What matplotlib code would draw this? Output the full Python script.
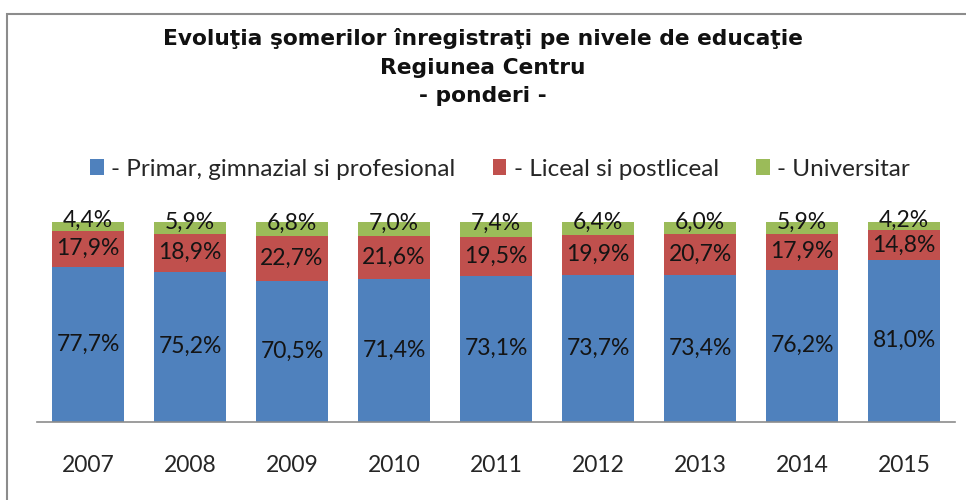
import matplotlib
matplotlib.use("Agg")
import matplotlib.pyplot as plt
from matplotlib.patches import Rectangle, Patch

years = ["2007", "2008", "2009", "2010", "2011", "2012", "2013", "2014", "2015"]
primar = [77.7, 75.2, 70.5, 71.4, 73.1, 73.7, 73.4, 76.2, 81.0]
liceal = [17.9, 18.9, 22.7, 21.6, 19.5, 19.9, 20.7, 17.9, 14.8]
univ = [4.4, 5.9, 6.8, 7.0, 7.4, 6.4, 6.0, 5.9, 4.2]
series_names = ["- Primar, gimnazial si profesional", "- Liceal si postliceal", "- Universitar"]
colors = ["#4F81BD", "#C0504D", "#9BBB59"]

title = "Evoluţia şomerilor înregistraţi pe nivele de educaţie\nRegiunea Centru\n- ponderi -"

W, H = 966, 500
fig = plt.figure(figsize=(W / 100, H / 100), dpi=100)

# outer frame (partly cut off on the right/bottom)
fig.patches.append(Rectangle((7 / W, -0.1), 1.2, 1 - 14 / H + 0.1, transform=fig.transFigure,
                             fill=False, edgecolor="#8c8c8c", linewidth=1.5))

ax = fig.add_axes([37 / W, 1 - 421.7 / H, (955 - 37) / W, (421.7 - 222) / H])
x = list(range(len(years)))
w = 0.7
lab_font = dict(family="Lato", fontsize=16.5, color="#141414")

bottoms = [0] * len(years)
for vals, col, name in zip([primar, liceal, univ], colors, series_names):
    ax.bar(x, vals, w, bottom=bottoms, color=col, label=name, edgecolor="none")
    for i, v in enumerate(vals):
        yc = bottoms[i] + v / 2
        dy = 4 if col == colors[2] else 0
        ax.annotate(f"{v:.1f}%".replace(".", ","), (x[i], yc), xytext=(0, dy),
                    textcoords="offset points", ha="center", va="center", **lab_font)
    bottoms = [b + v for b, v in zip(bottoms, vals)]

ax.set_xlim(-0.5, len(years) - 0.5)
ax.set_ylim(0, 100)
ax.set_xticks(x)
ax.set_xticklabels(years, family="Lato", fontsize=16.5, color="#262626")
ax.tick_params(axis="x", length=0, pad=24)
ax.set_yticks([])
for s in ["top", "right", "left"]:
    ax.spines[s].set_visible(False)
ax.spines["bottom"].set_color("#8c8c8c")
ax.spines["bottom"].set_linewidth(1.2)

fig.text(0.5, 1 - 67 / H, title, ha="center", va="center", family="DejaVu Sans",
         fontweight="bold", fontsize=15.7, linespacing=1.52, color="#111111")

handles = [Patch(facecolor=c, edgecolor="none") for c in colors]
fig.legend(handles, series_names, loc="center", bbox_to_anchor=(0.5176, 1 - 169 / H), ncol=3,
           frameon=False, prop=dict(family="Lato", size=17.5), handlelength=0.55, handleheight=0.6,
           handletextpad=0.3, columnspacing=1.55, labelcolor="#262626")

fig.savefig("out.png", dpi=100)
